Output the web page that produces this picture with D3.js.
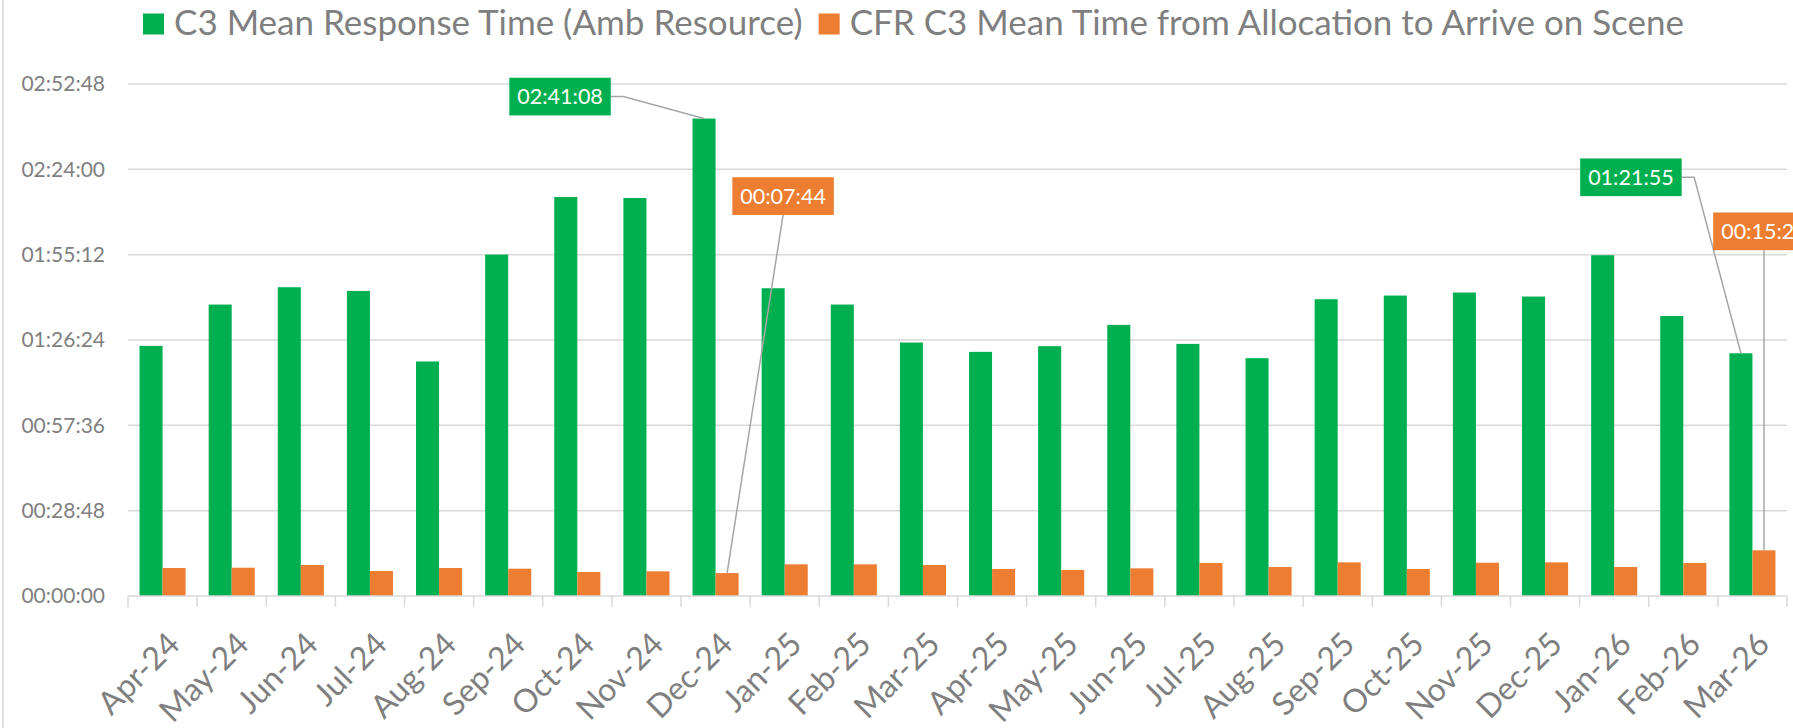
<!DOCTYPE html>
<html>
<head>
<meta charset="utf-8">
<script src="https://cdn.jsdelivr.net/npm/d3@7"></script>
<style>
body { margin: 0; background: #fff; }
svg { display: block; font-family: Lato, "Open Sans", sans-serif; }
</style>
</head>
<body>
<div id="chart-area"></div>
<script>
// months on the x axis
var months = ["Apr-24", "May-24", "Jun-24", "Jul-24", "Aug-24", "Sep-24", "Oct-24", "Nov-24",
    "Dec-24", "Jan-25", "Feb-25", "Mar-25", "Apr-25", "May-25", "Jun-25", "Jul-25", "Aug-25",
    "Sep-25", "Oct-25", "Nov-25", "Dec-25", "Jan-26", "Feb-26", "Mar-26"];

// C3 mean response time (amb resource), seconds
var ambResponse = [5065, 5902, 6253, 6178, 4749, 6914, 8080, 8060, 9668, 6232, 5902, 5133,
    4944, 5059, 5490, 5105, 4816, 6010, 6084, 6145, 6064, 6901, 5671, 4915];

// CFR C3 mean time from allocation to arrive on scene, seconds
var cfrArrive = [567, 573, 627, 506, 567, 553, 486, 499, 464, 641, 641, 627,
    546, 526, 560, 668, 587, 681, 546, 674, 681, 587, 668, 925];

var seriesNames = ["C3 Mean Response Time (Amb Resource)", "CFR C3 Mean Time from Allocation to Arrive on Scene"];
var seriesColors = ["#00b050", "#ed7d31"];

// y ticks every 00:28:48
var yTicks = [0, 1728, 3456, 5184, 6912, 8640, 10368];

// which bars carry a data label (series, month index)
var labelled = [[0, 8], [1, 8], [0, 23], [1, 23]];

var series = [ambResponse, cfrArrive];

var chartWidth = 1793,
    chartHeight = 728;

var margin = { top: 84, right: 6, bottom: 132, left: 128 };

var width = chartWidth - margin.left - margin.right,
    height = chartHeight - margin.top - margin.bottom;

var root = d3.select("#chart-area").append("svg")
    .attr("width", chartWidth)
    .attr("height", chartHeight);

// chart border on the left
root.append("line")
    .attr("x1", 3).attr("x2", 3)
    .attr("y1", 0).attr("y2", chartHeight)
    .attr("stroke", "#d9d9d9")
    .attr("stroke-width", 1.5);

var svg = root.append("g")
    .attr("transform", "translate(" + margin.left + "," + margin.top + ")");

function formatTime(s) {
    var h = Math.floor(s / 3600),
        m = Math.floor((s % 3600) / 60),
        sec = Math.round(s % 60);
    var pad = function(n) { return (n < 10 ? "0" : "") + n; };
    return pad(h) + ":" + pad(m) + ":" + pad(sec);
}

// scales
var x = d3.scaleBand()
    .domain(months)
    .range([0, width]);

var bw = x.bandwidth();

var xSub = d3.scaleBand()
    .domain([0, 1])
    .range([bw / 6, bw * 5 / 6]);

var y = d3.scaleLinear()
    .domain([0, 10368])
    .range([height, 0]);

// gridlines
svg.selectAll(".grid")
    .data(yTicks.slice(1))
    .enter().append("line")
    .attr("class", "grid")
    .attr("x1", 0).attr("x2", width)
    .attr("y1", d => y(d)).attr("y2", d => y(d))
    .attr("stroke", "#d9d9d9")
    .attr("stroke-width", 1.5);

// y axis labels
var yAxis = d3.axisLeft(y)
    .tickValues(yTicks)
    .tickFormat(formatTime)
    .tickSize(0)
    .tickPadding(23);

var yAxisGroup = svg.append("g")
    .attr("class", "y-axis axis")
    .call(yAxis);

yAxisGroup.select(".domain").remove();
yAxisGroup.selectAll("text")
    .attr("fill", "#7f7f7f")
    .style("font-size", "21px")
    .style("font-family", "Lato");

// bars
var groups = svg.selectAll(".month")
    .data(months)
    .enter().append("g")
    .attr("class", "month")
    .attr("transform", d => "translate(" + x(d) + ",0)");

groups.selectAll("rect")
    .data((d, i) => series.map((s, k) => ({ k: k, v: s[i] })))
    .enter().append("rect")
    .attr("x", d => xSub(d.k))
    .attr("width", xSub.bandwidth())
    .attr("y", d => y(d.v))
    .attr("height", d => height - y(d.v))
    .attr("fill", d => seriesColors[d.k]);

// x axis line and ticks between categories
svg.append("line")
    .attr("x1", 0).attr("x2", width)
    .attr("y1", height).attr("y2", height)
    .attr("stroke", "#d9d9d9")
    .attr("stroke-width", 1.5);

svg.selectAll(".xtick")
    .data(d3.range(months.length + 1))
    .enter().append("line")
    .attr("class", "xtick")
    .attr("x1", d => d * bw).attr("x2", d => d * bw)
    .attr("y1", height).attr("y2", height + 11)
    .attr("stroke", "#d9d9d9")
    .attr("stroke-width", 1.5);

// rotated month labels
svg.selectAll(".xlabel")
    .data(months)
    .enter().append("text")
    .attr("class", "xlabel")
    .attr("transform", d => "translate(" + (x(d) + bw / 2 + 19) + "," + (height + 50) + ") rotate(-45)")
    .attr("text-anchor", "end")
    .attr("fill", "#7f7f7f")
    .style("font-size", "32px")
    .text(d => d);

// data labels with leader lines
var boxW = 101.5, boxH = 37.7;
var labelOffsets = [
    { dx: -144, dy: -22, side: "right" },
    { dx: 56, dy: -377, side: "bottom" },
    { dx: -110, dy: -176, side: "right" },
    { dx: 0, dy: -319, side: "bottom" }
];

labelled.forEach(function(p, i) {
    var k = p[0], idx = p[1], v = series[k][idx];
    var bx = x(months[idx]) + xSub(k) + xSub.bandwidth() / 2,
        by = y(v);
    var cx = bx + labelOffsets[i].dx,
        cy = by + labelOffsets[i].dy;

    var path;
    if (labelOffsets[i].side === "right") {
        path = "M" + (cx + boxW / 2) + "," + cy + "H" + (cx + boxW / 2 + 12.5) + "L" + bx + "," + by;
    } else {
        path = "M" + cx + "," + (cy + boxH / 2) + "L" + bx + "," + by;
    }
    svg.append("path")
        .attr("d", path)
        .attr("fill", "none")
        .attr("stroke", "#a6a6a6")
        .attr("stroke-width", 1.5);

    svg.append("rect")
        .attr("x", cx - boxW / 2)
        .attr("y", cy - boxH / 2)
        .attr("width", boxW)
        .attr("height", boxH)
        .attr("fill", seriesColors[k]);

    svg.append("text")
        .attr("x", cx)
        .attr("y", cy)
        .attr("dy", "0.36em")
        .attr("text-anchor", "middle")
        .attr("fill", "#fff")
        .style("font-size", "21.5px")
        .text(formatTime(v));
});

// legend
var legendX = 143;
seriesNames.forEach(function(name, k) {
    root.append("rect")
        .attr("x", legendX)
        .attr("y", 13.5)
        .attr("width", 21)
        .attr("height", 21)
        .attr("fill", seriesColors[k]);

    var t = root.append("text")
        .attr("x", legendX + 31)
        .attr("y", 35)
        .attr("fill", "#7f7f7f")
        .style("font-size", "35px")
        .text(name);

    legendX += 31 + t.node().getComputedTextLength() + 16;
});
</script>
</body>
</html>
